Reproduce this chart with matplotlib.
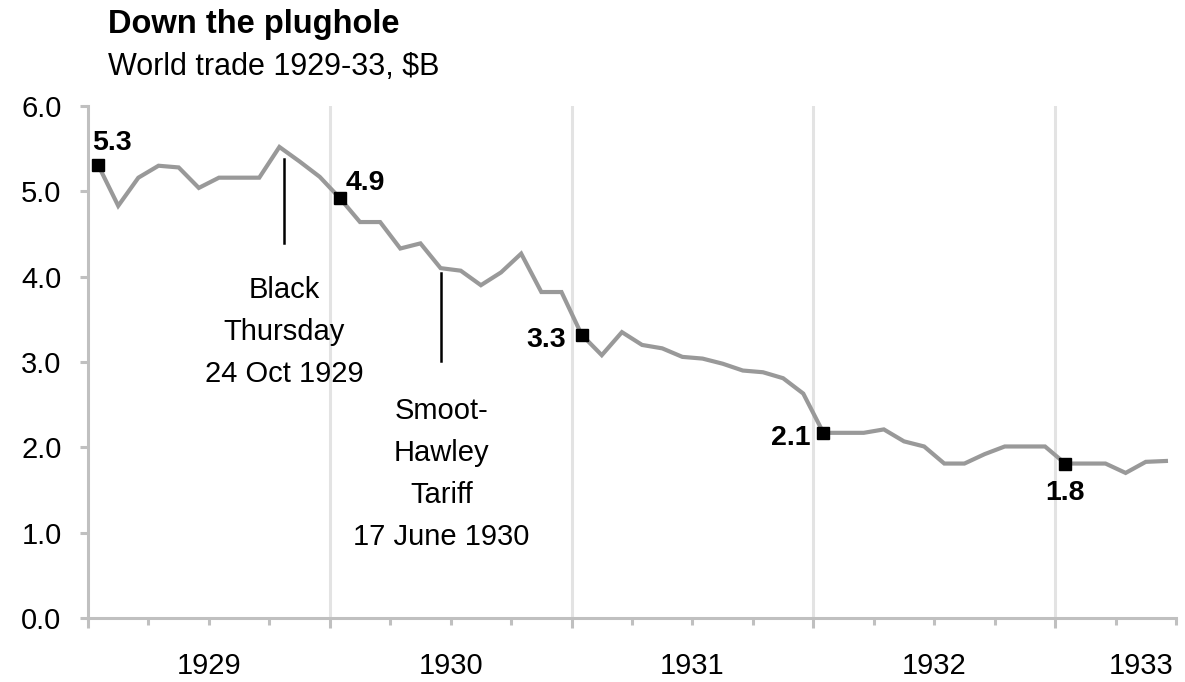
# ==============================================================================
# DOWN THE PLUGHOLE
# Monthly world trade, Jan 1929 - Jun 1933, in $B, with two event markers
# (Black Thursday and the Smoot-Hawley tariff) and labelled January values.
# ==============================================================================

import matplotlib
matplotlib.use("Agg")
import matplotlib.pyplot as plt
from matplotlib.ticker import FixedLocator, NullFormatter

plt.rcParams['font.family'] = ['Liberation Sans', 'DejaVu Sans']

# ------------------------------------------------------------------------------
# Data
# ------------------------------------------------------------------------------
years = [1929, 1930, 1931, 1932, 1933]

trade_1929 = [5.31, 4.83, 5.16, 5.30, 5.28, 5.04, 5.16, 5.16, 5.16, 5.52, 5.35, 5.17]
trade_1930 = [4.92, 4.64, 4.64, 4.33, 4.39, 4.10, 4.07, 3.90, 4.05, 4.27, 3.82, 3.82]
trade_1931 = [3.32, 3.08, 3.35, 3.20, 3.16, 3.06, 3.04, 2.98, 2.90, 2.88, 2.81, 2.63]
trade_1932 = [2.17, 2.17, 2.17, 2.21, 2.07, 2.01, 1.81, 1.81, 1.92, 2.01, 2.01, 2.01]
trade_1933 = [1.81, 1.81, 1.81, 1.70, 1.83, 1.84]

# January values get a black square and a bold label
callout_labels = ["5.3", "4.9", "3.3", "2.1", "1.8"]

# events: (month index from Jan 1929, day, days in month)
event_dates = [(9, 24, 31), (17, 17, 30)]
event_labels = [["Black", "Thursday", "24 Oct 1929"],
                ["Smoot-", "Hawley", "Tariff", "17 June 1930"]]

y_ticks = [0.0, 1.0, 2.0, 3.0, 4.0, 5.0, 6.0]

# ------------------------------------------------------------------------------
# Build series on a month axis (0 = start of Jan 1929, points at mid-month)
# ------------------------------------------------------------------------------
trade = trade_1929 + trade_1930 + trade_1931 + trade_1932 + trade_1933
months = [i + 0.5 for i in range(len(trade))]
n_months = len(trade)
jan_idx = list(range(0, n_months, 12))

# ------------------------------------------------------------------------------
# Figure
# ------------------------------------------------------------------------------
W, H = 1185, 682
fig = plt.figure(figsize=(W / 100, H / 100), dpi=100)
ax = fig.add_axes([88 / W, 1 - 618 / H, (1176 - 88) / W, (618 - 106) / H])

GRID = '#e3e3e3'
AXIS = '#c0c0c0'
FS = 21

# year gridlines
for k in range(1, len(years)):
    ax.axvline(12 * k, color=GRID, lw=2.2, zorder=0)

ax.plot(months, trade, color='#999999', lw=3.0, zorder=2,
        solid_joinstyle='miter')
ax.plot([months[i] for i in jan_idx], [trade[i] for i in jan_idx],
        ls='none', marker='s', ms=8, color='black', zorder=3)

# callout offsets (points) and alignment per label
offsets = [(-4, 16, 'left'), (4, 11, 'left'), (-11, -4, 'right'),
           (-9, -4, 'right'), (0, -21, 'center')]
for i, lab, (dx, dy, ha) in zip(jan_idx, callout_labels, offsets):
    ax.annotate(lab, (months[i], trade[i]), xytext=(dx, dy),
                textcoords='offset points', ha=ha, va='center',
                fontsize=20.5, fontweight='bold', zorder=4)

# event markers
event_spans = [(5.38, 4.40), (4.04, 3.01)]
first_gap = [34, 36]
for (m, d, nd), lines, (top, bot), gap in zip(event_dates, event_labels,
                                              event_spans, first_gap):
    x = m + (d - 1) / nd
    ax.plot([x, x], [top, bot], color='black', lw=1.8, zorder=3)
    for j, txt in enumerate(lines):
        ax.annotate(txt, (x, bot), xytext=(0, -gap - 30.2 * j),
                    textcoords='offset points', ha='center', va='center',
                    fontsize=FS)

# axes styling
ax.set_xlim(0, n_months)
ax.set_ylim(0, 6)
for s in ['top', 'right']:
    ax.spines[s].set_visible(False)
for s in ['left', 'bottom']:
    ax.spines[s].set_color(AXIS)
    ax.spines[s].set_linewidth(2.2)

ax.set_yticks(y_ticks)
ax.set_yticklabels([f"{v:.1f}" for v in y_ticks], fontsize=FS)
ax.tick_params(axis='y', length=6, width=2.2, color=AXIS, pad=13)

ax.xaxis.set_major_locator(FixedLocator(list(range(0, n_months + 1, 12))))
ax.xaxis.set_minor_locator(FixedLocator(list(range(0, n_months + 1, 3))))
ax.xaxis.set_major_formatter(NullFormatter())
ax.tick_params(axis='x', which='major', length=7, width=2.2, color=AXIS)
ax.tick_params(axis='x', which='minor', length=5, width=2.2, color=AXIS)

# year labels centred under each year; the part-year is flushed to the end
for k, yr in enumerate(years):
    start = 12 * k
    end = min(start + 12, n_months)
    if end - start == 12:
        ax.annotate(str(yr), ((start + end) / 2, 0), xytext=(0, -34.5),
                    textcoords='offset points', ha='center', va='center',
                    fontsize=FS, annotation_clip=False)
    else:
        ax.annotate(str(yr), (end, 0), xytext=(-2, -34.5),
                    textcoords='offset points', ha='right', va='center',
                    fontsize=FS, annotation_clip=False)

# titles
fig.text(108 / W, 1 - 24 / H, "Down the plughole", fontsize=23.5,
         fontweight='bold', va='center', ha='left')
fig.text(108 / W, 1 - 67 / H, "World trade 1929-33, $B", fontsize=22,
         va='center', ha='left')

fig.savefig("out.png", dpi=100, facecolor='white')
